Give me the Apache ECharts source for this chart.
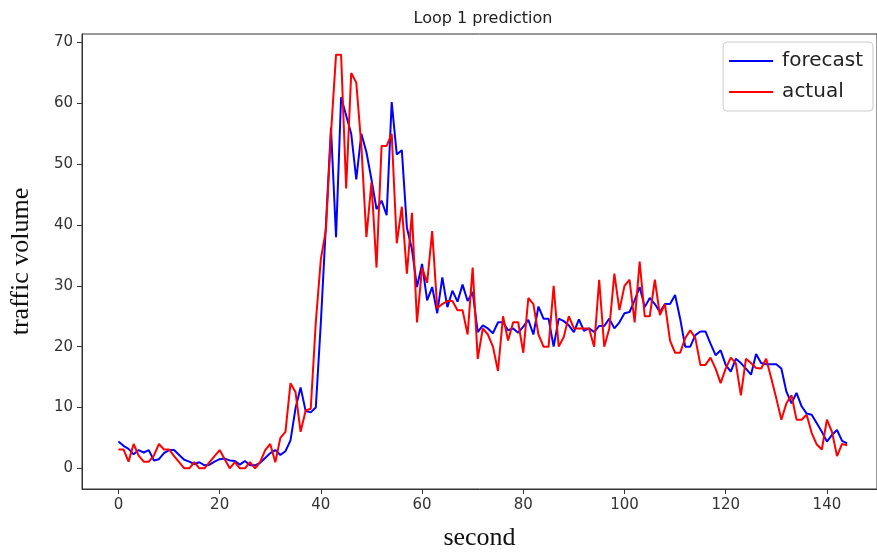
<!DOCTYPE html>
<html>
    <head>
        <meta charset="utf-8">
        <title>Loop 1 prediction</title>
        <script src="https://cdn.jsdelivr.net/npm/echarts@6.0.0/dist/echarts.min.js"></script>
    </head>
    <body style="margin:0">
    <div id="main" style="width: 877px;height: 556px;"></div>
    <script>
        // seconds 0..144
        var seconds = [];
        for (var i = 0; i < 145; i++) { seconds.push(i); }
        var tickValues = [0, 20, 40, 60, 80, 100, 120, 140];
        var yTickValues = [0, 10, 20, 30, 40, 50, 60, 70];

        var forecast = [
            4.4, 3.7, 3.2, 2.3, 3.0, 2.6, 3.0, 1.3, 1.5, 2.5,
            3.0, 3.0, 2.2, 1.4, 1.1, 0.7, 1.0, 0.5, 0.6, 1.1,
            1.5, 1.6, 1.3, 1.2, 0.6, 1.2, 0.5, 0.5, 0.9, 1.7,
            2.5, 3.0, 2.2, 2.8, 4.6, 9.9, 13.3, 9.4, 9.2, 10.0,
            24, 40, 56, 38, 61, 58, 55, 47.5, 55, 52,
            47.5, 42.6, 44, 41.6, 60.2, 51.6, 52.3, 39.6, 36, 29.8,
            33.6, 27.6, 29.8, 25.5, 31.4, 26.5, 29.2, 27.4, 30.2, 27.5,
            29, 22.4, 23.5, 23, 22.2, 24, 24, 22.7, 23, 22.3,
            23.3, 24.4, 22, 26.6, 24.6, 24.6, 20, 24.6, 24.2, 23.5,
            22.4, 24.5, 22.6, 23, 22.4, 23.4, 23.4, 24.6, 23, 24,
            25.5, 25.7, 27.6, 29.8, 26.5, 28, 27, 25.7, 27, 27,
            28.5, 24.6, 20, 20, 21.9, 22.5, 22.5, 20.5, 18.6, 19.4,
            17, 15.9, 18, 17.3, 16.4, 15.4, 18.8, 17.3, 17.1, 17.1,
            17.1, 16.4, 12.6, 10.7, 12.4, 10.2, 9, 8.8, 7.4, 6,
            4.4, 5.5, 6.3, 4.5, 4.1
        ];
        var actual = [
            3.1, 3.1, 1.1, 4.0, 2.1, 1.1, 1.1, 2.1, 4.0, 3.1,
            3.1, 2.0, 1.0, 0, 0, 1.0, 0, 0, 1.0, 2.0,
            3.0, 1.5, 0, 1.0, 0, 0, 1.0, 0, 1.0, 3.0,
            4.0, 1.0, 5.0, 6.0, 14, 12.5, 6, 9.5, 9.8, 24,
            34.4, 39.2, 55, 68, 68, 46, 65, 63.4, 53, 38,
            47, 33, 53, 53, 55, 37, 43, 32, 42, 24,
            33, 30.5, 39, 26.3, 27, 27.5, 27.5, 26, 26, 22,
            33, 18, 23, 22, 20, 16, 25, 21, 24, 24,
            19, 28, 27, 22, 20, 20, 30, 20, 21.6, 25,
            23, 23, 23, 23, 20, 31, 20, 23, 32, 26,
            30, 31, 24, 34, 25, 25, 31, 25.2, 27, 21,
            19, 19, 21.4, 22.7, 21.4, 17, 17, 18.2, 16.4, 14,
            16.4, 18.2, 17.3, 12, 18, 17.3, 16.5, 16.4, 18, 14.8,
            11.5, 8, 10.7, 12, 8, 8, 8.8, 5.8, 3.9, 3.1,
            8, 6, 2, 4, 3.8
        ];

        function pairs(ys) {
            var out = [];
            for (var k = 0; k < ys.length; k++) { out.push([seconds[k], ys[k]]); }
            return out;
        }

        var myChart = echarts.init(document.getElementById('main'));
        var option = {
            backgroundColor: '#fff',
            animation: false,
            title: {
                text: 'Loop 1 prediction',
                left: 478,
                textAlign: 'center',
                top: 6,
                textStyle: {fontFamily: 'DejaVu Sans', fontSize: 16, fontWeight: 'normal', color: '#222'}
            },
            legend: {
                orient: 'vertical',
                right: 4,
                top: 42,
                padding: [9, 10, 9, 6],
                itemGap: 11,
                itemWidth: 44,
                itemHeight: 2,
                icon: 'rect',
                borderColor: '#ccc',
                borderWidth: 1,
                borderRadius: 4,
                backgroundColor: '#fff',
                textStyle: {fontFamily: 'DejaVu Sans', fontSize: 20, color: '#222', padding: [0, 0, 0, 4]},
                data: ['forecast', 'actual']
            },
            grid: {
                left: 78, right: 0, top: 34, bottom: 62,
                show: true, borderColor: '#333', borderWidth: 1
            },
            xAxis: {
                type: 'value',
                min: -7.2, max: 149.9,
                name: 'second',
                nameLocation: 'middle',
                nameGap: 36,
                nameTextStyle: {fontFamily: 'Liberation Serif', fontSize: 26, color: '#111'},
                splitLine: {show: false},
                axisLine: {onZero: false, lineStyle: {color: '#333'}},
                axisTick: {length: 5, customValues: tickValues, lineStyle: {color: '#333'}},
                axisLabel: {customValues: tickValues, fontFamily: 'DejaVu Sans', fontSize: 15, color: '#333', margin: 9}
            },
            yAxis: {
                type: 'value',
                min: -3.4, max: 71.4,
                name: 'traffic volume',
                nameLocation: 'middle',
                nameRotate: 90,
                nameGap: 48,
                nameTextStyle: {fontFamily: 'Liberation Serif', fontSize: 26, color: '#111'},
                splitLine: {show: false},
                axisLine: {show: true, onZero: false, lineStyle: {color: '#333'}},
                axisTick: {show: true, length: 5, customValues: yTickValues, lineStyle: {color: '#333'}},
                axisLabel: {customValues: yTickValues, fontFamily: 'DejaVu Sans', fontSize: 15, color: '#333', margin: 9}
            },
            series: [
                {
                    name: 'forecast',
                    type: 'line',
                    data: pairs(forecast),
                    symbol: 'none',
                    color: '#0000ff',
                    lineStyle: {width: 2, color: '#0000ff'}
                },
                {
                    name: 'actual',
                    type: 'line',
                    data: pairs(actual),
                    symbol: 'none',
                    color: '#ff0000',
                    lineStyle: {width: 2, color: '#ff0000'}
                }
            ]
        };
        option && myChart.setOption(option);
    </script>
    </body>
</html>
